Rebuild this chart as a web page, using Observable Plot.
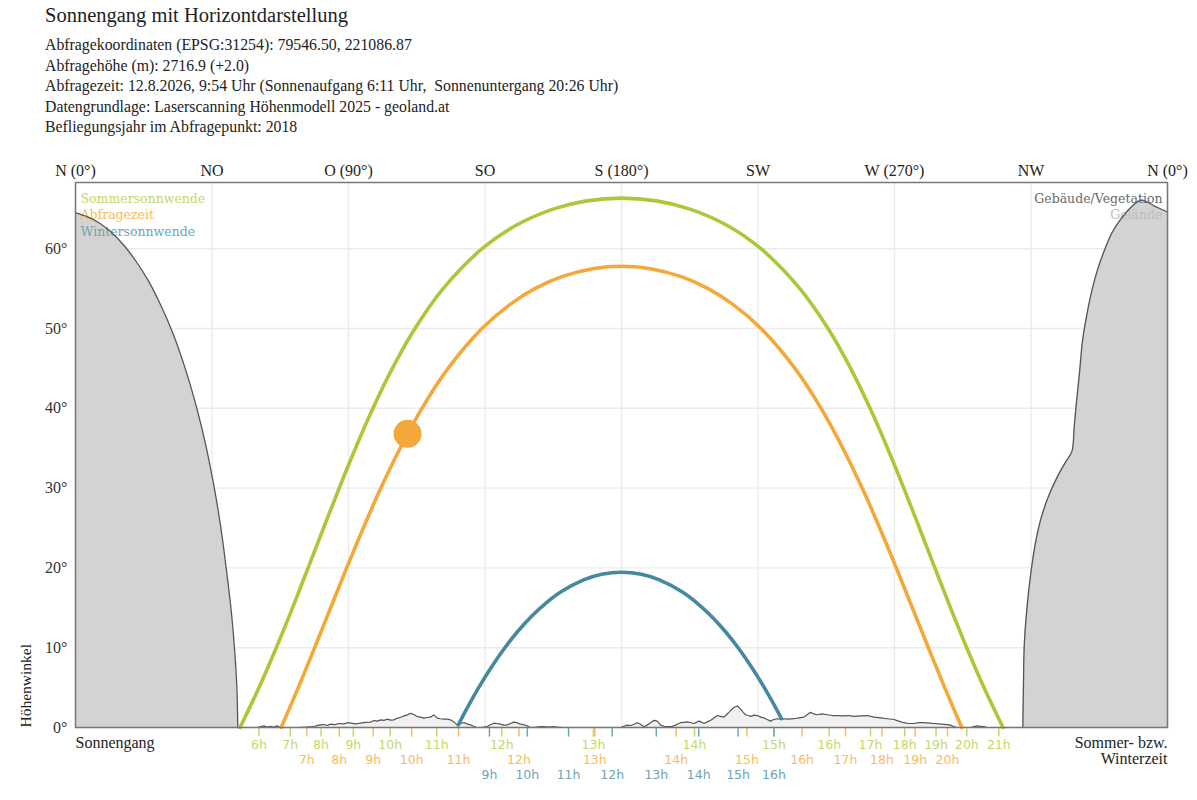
<!DOCTYPE html>
<html><head><meta charset="utf-8">
<script src="https://cdn.jsdelivr.net/npm/d3@7"></script>
<script src="https://cdn.jsdelivr.net/npm/@observablehq/plot@0.6"></script>
<style>
body{margin:0;background:#fff;}
#header{position:relative;height:140px;font-family:"Liberation Serif",serif;color:#222;}
#title{position:absolute;left:45px;top:3px;font-size:20.5px;line-height:24px;white-space:pre;}
#sub{position:absolute;left:45px;top:35px;font-size:15.8px;line-height:20.5px;white-space:pre;}
#chart svg{display:block;overflow:visible;}
</style></head><body>
<div id="header"><div id="title"></div><div id="sub"></div></div>
<div id="chart"></div>
<script>
const titleText = "Sonnengang mit Horizontdarstellung";
const subtitleLines = [
  "Abfragekoordinaten (EPSG:31254): 79546.50, 221086.87",
  "Abfragehöhe (m): 2716.9 (+2.0)",
  "Abfragezeit: 12.8.2026, 9:54 Uhr (Sonnenaufgang 6:11 Uhr,  Sonnenuntergang 20:26 Uhr)",
  "Datengrundlage: Laserscanning Höhenmodell 2025 - geoland.at",
  "Befliegungsjahr im Abfragepunkt: 2018"
];

const compassLabels = ["N (0°)","NO","O (90°)","SO","S (180°)","SW","W (270°)","NW","N (0°)"];
const compassAz = [0,45,90,135,180,225,270,315,360];
const altTicks = [0,10,20,30,40,50,60];
const altLabels = ["0°","10°","20°","30°","40°","50°","60°"];

// Sun paths (azimuth °, altitude °)
const summerAz  = [54.24,60.50,66.19,71.54,76.69,81.78,86.93,92.30,98.06,104.46,111.91,121.20,134.04,145.58,157.67,168.55,180,191.45,202.33,214.42,225.96,238.80,248.09,255.54,261.94,267.70,273.07,278.22,283.31,288.46,293.81,299.50,305.76];
const summerAlt = [0,5,10,15,20,25,30,35,40,45,50,55,60,63,65,66,66.34,66,65,63,60,55,50,45,40,35,30,25,20,15,10,5,0];

const queryAz  = [67.81,73.45,78.83,84.11,89.41,94.88,100.67,107.01,114.21,122.82,134.00,143.18,151.43,160.30,170.50,180,189.50,199.70,208.57,216.82,226.00,237.18,245.79,252.99,259.33,265.12,270.59,275.89,281.17,286.55,292.19];
const queryAlt = [0,5,10,15,20,25,30,35,40,45,50,53,55,56.5,57.5,57.8,57.5,56.5,55,53,50,45,40,35,30,25,20,15,10,5,0];

const winterAz  = [126.20,129.19,132.91,136.99,141.55,145.71,150.53,154.81,160.07,167.50,173.46,180,186.54,192.50,199.93,205.19,209.47,214.29,218.45,223.01,227.09,230.81,232.76];
const winterAlt = [0.33,2.5,5,7.5,10,12,14,15.5,17,18.5,19.2,19.46,19.2,18.5,17,15.5,14,12,10,7.5,5,2.5,1.1];

const queryNowAz = [109.47];
const queryNowAlt = [36.8];

// Hour marks along the horizon
const summerHourLabels = ["6h","7h","8h","9h","10h","11h","12h","13h","14h","15h","16h","17h","18h","19h","20h","21h"];
const summerHourAz = [60.5,70.8,80.95,91.59,103.74,119.07,140.54,170.73,204.07,230.25,248.48,262.08,273.37,283.70,293.85,304.38];
const queryHourLabels = ["7h","8h","9h","10h","11h","12h","13h","14h","15h","16h","17h","18h","19h","20h"];
const queryHourAz = [76.27,86.96,98.16,110.84,126.28,146.20,171.2,198.03,221.37,239.54,253.84,265.86,276.80,287.47];
const winterHourLabels = ["9h","10h","11h","12h","13h","14h","15h","16h"];
const winterHourAz = [136.47,148.95,162.55,176.94,191.47,205.46,218.43,230.27];

// Horizon: large terrain masses (N side)
const leftTerrainAz  = [0,4,8,12,16,20,24,28,32,36,40,43,46,48,50,51.5,52.5,53.2,53.5];
const leftTerrainAlt = [64.5,64.0,63.2,62.0,60.4,58.4,56.0,53.0,49.5,45.2,40.0,35.3,29.5,24.8,19.0,14.0,9.5,5.0,0];
const rightTerrainAz  = [312.3,312.5,312.8,313.8,315,316.5,318.3,320.8,323.8,326.3,328.5,329.2,329.8,331,332,333.3,334.8,336.8,339.1,341.7,344.6,348,351.4,355.7,360];
const rightTerrainAlt = [0,5,10.5,15.5,19.5,23.2,26.2,29.0,31.5,33.2,34.6,37.5,40.0,44.5,48.5,51.5,54.3,57.2,59.7,62.0,63.7,65.2,66.1,65.35,64.6];

// Horizon: low profile (south side)
const lowAz  = [53.5,59.9,62.1,63.2,64.3,65.4,66.5,67.6,73.1,76,78.6,80.2,81.9,83,84.1,85.5,86.8,88.5,89.6,90.7,92.3,94.0,95.6,97.3,98.4,99.5,100.6,101.7,102.8,103.9,104.9,106,107.2,108.3,109.4,110.5,111.5,112.7,113.7,114.8,116,117.0,118.1,119.3,120.3,121.4,122.5,123.6,124.7,125.8,127,128.0,129,130.2,131.3,132.4,134,135.7,136.8,137.9,139,140.1,141.2,142.3,143.4,144.5,145.6,146.7,147.8,148.9,150,152,153,154.4,156,157.5,158.8,161,179.7,181.9,183,184.1,185.2,186.3,187.4,188.5,189.6,190.7,191.8,192.9,194,195.1,196.2,197.3,198.4,199.5,200.6,201.7,202.8,203.9,205.5,206.3,207.2,208.3,209.4,210.5,211.6,212.7,213.8,214.6,215.4,216.2,217.0,218.2,219.3,220.1,220.9,221.8,222.6,223.7,224.8,225.9,227.0,228,229.1,230.2,231.4,232.4,233.5,235,236.8,238.5,240.1,241.2,242.3,243.4,244.5,246,247.8,249.5,251.1,253,254.8,256.6,258.8,261.0,263.2,265.4,267.6,269.8,271.4,273.1,274.7,276.4,278,279.7,281.4,283.0,284.7,286.3,287.4,288.5,289.6,290.7,295,296.2,297.3,298.4,299.5,300.6,312.3];
const lowAlt = [0,0,0.2,0.05,0.15,0.05,0.2,0,0,0.05,0.12,0.3,0.37,0.25,0.42,0.35,0.5,0.46,0.6,0.54,0.45,0.54,0.65,0.67,0.87,0.8,0.96,0.9,1.04,0.92,0.96,1.15,1.29,1.45,1.58,1.79,1.62,1.37,1.3,1.17,1.25,1.29,1.58,1.17,1.1,1.04,1.05,0.96,0.7,0.33,0.5,0.62,0.45,0.33,0.15,0,0.02,0.12,0.35,0.54,0.5,0.42,0.3,0.33,0.5,0.67,0.6,0.42,0.35,0.21,0,0.05,0.1,0.1,0.05,0.1,0.05,0,0,0.3,0.25,0.4,0.6,0.4,0.1,0.3,0.6,0.9,0.8,0.3,0.15,0.1,0.1,0.2,0.4,0.6,0.65,0.7,0.6,0.5,0.8,0.7,0.5,0.7,0.9,1.2,1.5,1.4,1.3,1.6,1.9,2.2,2.5,2.7,2.3,1.9,1.6,1.5,1.4,1.55,1.5,1.3,1.2,1.0,0.8,1.0,1.1,1.05,1.1,1.05,1.1,1.2,1.3,1.6,1.9,1.7,1.6,1.7,1.6,1.5,1.5,1.45,1.5,1.4,1.45,1.5,1.3,1.2,1.1,1.0,0.8,0.6,0.5,0.5,0.6,0.6,0.55,0.5,0.45,0.4,0.35,0.3,0.1,0,0,0.1,0.2,0.15,0.1,0,0];

const legendLeft = ["Sommersonnwende","Abfragezeit","Wintersonnwende"];
const legendRight = ["Gebäude/Vegetation","Gelände"];
const axisYTitle = "Höhenwinkel";
const bottomLeftText = "Sonnengang";
const bottomRightText = ["Sommer- bzw.","Winterzeit"];

// colours
const cSummer = "#aac93a", cQuery = "#f5a83a", cWinter = "#46899f";
const cSummerTxt = "#c3d86a", cQueryTxt = "#f8bb5e", cWinterTxt = "#6ea3b6";
const legendLeftColors = [cSummerTxt, cQueryTxt, cWinterTxt];
const legendRightColors = ["#6a6a6a", "#bdbdbd"];

const zip = (az, alt) => az.map((a, i) => ({az: a, alt: alt[i]}));
const summer = zip(summerAz, summerAlt);
const query = zip(queryAz, queryAlt);
const winter = zip(winterAz, winterAlt);
const now = zip(queryNowAz, queryNowAlt);
const leftT = zip(leftTerrainAz, leftTerrainAlt);
const rightT = zip(rightTerrainAz, rightTerrainAlt);
const lowT = zip(lowAz, lowAlt);
const hours = (labels, az) => labels.map((l, i) => ({label: l, az: az[i]}));
const sH = hours(summerHourLabels, summerHourAz);
const qH = hours(queryHourLabels, queryHourAz);
const wH = hours(winterHourLabels, winterHourAz);
const compass = compassAz.map((a, i) => ({az: a, label: compassLabels[i]}));
const altAxis = altTicks.map((a, i) => ({alt: a, label: altLabels[i]}));
const legL = legendLeft.map((t, i) => ({text: t, color: legendLeftColors[i], row: i}));
const legR = legendRight.map((t, i) => ({text: t, color: legendRightColors[i], row: i}));

document.getElementById("title").textContent = titleText;
document.getElementById("sub").textContent = subtitleLines.join("\n");

const serif = "Liberation Serif";
const sans = "DejaVu Sans";
const legendFont = "DejaVu Serif";

const legendMarks = (data, anchor, dx, textAnchor) => data.map(d =>
  Plot.text([d], {text: "text", frameAnchor: anchor, dx, dy: 11.5 + d.row * 16.5,
    fill: d.color, fontSize: 12.5, fontFamily: legendFont, textAnchor}));

const bottomRightMarks = bottomRightText.map((t, i) =>
  Plot.text([t], {text: d => d, frameAnchor: "bottom-right", dy: 20 + i * 16,
    textAnchor: "end", fill: "#222", fontSize: 16}));

const chart = Plot.plot({
  width: 1197, height: 652,
  marginLeft: 75, marginRight: 30, marginTop: 42, marginBottom: 65,
  x: {domain: [0, 360], axis: null},
  y: {domain: [0, 68.3], axis: null},
  style: {fontFamily: serif, background: "white", overflow: "visible"},
  marks: [
    Plot.gridX(compassAz, {stroke: "#ebebeb", strokeOpacity: 1, strokeWidth: 1.4}),
    Plot.gridY(altTicks, {stroke: "#ebebeb", strokeOpacity: 1, strokeWidth: 1.4}),
    Plot.areaY(lowT, {x: "az", y1: 0, y2: "alt", fill: "#f0f0f0"}),
    Plot.areaY(leftT, {x: "az", y1: 0, y2: "alt", fill: "#d3d3d3", curve: "catmull-rom"}),
    Plot.areaY(rightT, {x: "az", y1: 0, y2: "alt", fill: "#d3d3d3", curve: "catmull-rom"}),
    ...legendMarks(legL, "top-left", 5, "start"),
    ...legendMarks(legR, "top-right", -5, "end"),
    Plot.line(lowT, {x: "az", y: "alt", stroke: "#555", strokeWidth: 1.2}),
    Plot.line(leftT, {x: "az", y: "alt", stroke: "#555", strokeWidth: 1.3, curve: "catmull-rom"}),
    Plot.line(rightT, {x: "az", y: "alt", stroke: "#555", strokeWidth: 1.3, curve: "catmull-rom"}),
    Plot.line(summer, {x: "az", y: "alt", stroke: cSummer, strokeWidth: 3.6, curve: "catmull-rom"}),
    Plot.line(query, {x: "az", y: "alt", stroke: cQuery, strokeWidth: 3.6, curve: "catmull-rom"}),
    Plot.line(winter, {x: "az", y: "alt", stroke: cWinter, strokeWidth: 3.6, curve: "catmull-rom"}),
    Plot.dot(now, {x: "az", y: "alt", r: 14, fill: cQuery}),
    Plot.ruleX(sH, {x: "az", y1: -0.15, y2: -1.2, stroke: cSummerTxt, strokeWidth: 1.5}),
    Plot.ruleX(qH, {x: "az", y1: -0.15, y2: -1.2, stroke: cQueryTxt, strokeWidth: 1.5}),
    Plot.ruleX(wH, {x: "az", y1: -0.15, y2: -1.2, stroke: cWinterTxt, strokeWidth: 1.5}),
    Plot.text(sH, {x: "az", text: "label", frameAnchor: "bottom", dy: 21, fill: cSummerTxt, fontSize: 12.5, fontFamily: sans}),
    Plot.text(qH, {x: "az", text: "label", frameAnchor: "bottom", dy: 36, fill: cQueryTxt, fontSize: 12.5, fontFamily: sans}),
    Plot.text(wH, {x: "az", text: "label", frameAnchor: "bottom", dy: 51, fill: cWinterTxt, fontSize: 12.5, fontFamily: sans}),
    Plot.text(compass, {x: "az", text: "label", frameAnchor: "top", dy: -18, fill: "#222", fontSize: 16}),
    Plot.text(altAxis, {y: "alt", text: "label", frameAnchor: "left", dx: -8, textAnchor: "end", fill: "#333", fontSize: 16}),
    Plot.text([axisYTitle], {text: d => d, frameAnchor: "bottom-left", dx: -45, rotate: -90, textAnchor: "start", fill: "#222", fontSize: 15.5}),
    Plot.text([bottomLeftText], {text: d => d, frameAnchor: "bottom-left", dy: 20, textAnchor: "start", fill: "#222", fontSize: 16}),
    ...bottomRightMarks,
    Plot.frame({stroke: "#777", strokeWidth: 1.5})
  ]
});
document.getElementById("chart").appendChild(chart);
</script>
</body></html>
